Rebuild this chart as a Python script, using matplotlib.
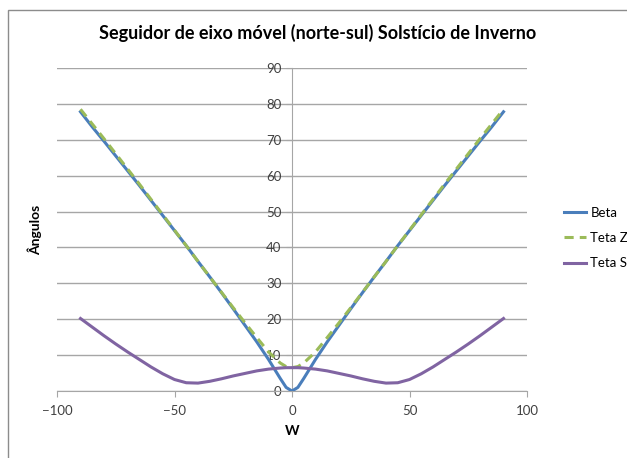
import matplotlib
matplotlib.use("Agg")
import matplotlib.pyplot as plt
from matplotlib.patches import Rectangle

# hour angle w, degrees
w = [-90, -85, -80, -75, -70, -65, -60, -55, -50, -45, -40, -35, -30, -25, -20, -15, -10, -5, -2.5,
     0, 2.5, 5, 10, 15, 20, 25, 30, 35, 40, 45, 50, 55, 60, 65, 70, 75, 80, 85, 90]

beta = [77.8, 73.6, 69.6, 65.5, 61.4, 57.3, 53.1, 48.9, 44.7, 40.5, 36.1, 31.8, 27.4, 22.9, 18.3, 13.7, 8.8, 3.5, 1.0,
        0.0, 1.0, 3.5, 8.8, 13.7, 18.3, 22.9, 27.4, 31.8, 36.1, 40.5, 44.7, 48.9, 53.1, 57.3, 61.4, 65.5, 69.6, 73.6, 77.8]

teta_z = [78.5, 74.4, 70.3, 66.1, 61.9, 57.7, 53.4, 49.1, 44.8, 40.5, 36.1, 31.8, 27.5, 23.2, 19.0, 14.9, 10.9, 7.8, 6.8,
          6.5, 6.8, 7.8, 10.9, 14.9, 19.0, 23.2, 27.5, 31.8, 36.1, 40.5, 44.8, 49.1, 53.4, 57.7, 61.9, 66.1, 70.3, 74.4, 78.5]

teta_s = [20.2, 17.8, 15.4, 13.1, 10.9, 8.8, 6.7, 4.8, 3.2, 2.3, 2.2, 2.7, 3.4, 4.2, 4.9, 5.6, 6.1, 6.4, 6.5,
          6.5, 6.5, 6.4, 6.1, 5.6, 4.9, 4.2, 3.4, 2.7, 2.2, 2.3, 3.2, 4.8, 6.7, 8.8, 10.9, 13.1, 15.4, 17.8, 20.2]

x_ticks = [-100, -50, 0, 50, 100]
y_ticks = [0, 10, 20, 30, 40, 50, 60, 70, 80, 90]

plt.rcParams['font.family'] = ['Lato', 'DejaVu Sans']

fig = plt.figure(figsize=(6.27, 4.58), dpi=100)
ax = fig.add_axes([57/627, 1 - 391/458, 470/627, 323/458])

# chart frame (cropped on the right and bottom)
fig.patches.append(Rectangle((8/627, -0.5), 2, 0.5 + 1 - 10/458, transform=fig.transFigure,
                             fill=False, edgecolor='#8c8c8c', lw=1.0))

ax.plot(w, beta, color='#4a7ebb', lw=2.2, label='Beta', zorder=3)
ax.plot(w, teta_z, color='#9bbb59', lw=2.2, ls=(0, (3, 2)), label='Teta Z', zorder=4)
ax.plot(w, teta_s, color='#8064a2', lw=2.2, label='Teta S', zorder=5)

ax.set_xlim(-100, 100)
ax.set_ylim(0, 90)
ax.set_xticks(x_ticks)
ax.set_yticks(y_ticks)
ax.yaxis.grid(True, color='#a6a6a6', lw=1.0)
ax.set_axisbelow(True)

ax.spines['left'].set_position(('data', 0))
ax.spines['top'].set_visible(False)
ax.spines['right'].set_visible(False)
for s in ['left', 'bottom']:
    ax.spines[s].set_color('#a6a6a6')
ax.tick_params(axis='both', colors='#a6a6a6', labelcolor='#404040', labelsize=9.5, length=4)
ax.tick_params(axis='x', pad=6)

ax.set_xlabel('W', fontsize=10, fontweight='bold', labelpad=6)
fig.text(35/627, 1 - 230/458, 'Ângulos', rotation=90, fontsize=10, fontweight='bold',
         ha='center', va='center')
fig.suptitle('Seguidor de eixo móvel (norte-sul) Solstício de Inverno', x=318/627, y=1 - 33/458,
             fontsize=13, fontweight='bold', va='center')

ax.legend(loc='center left', bbox_to_anchor=(552/627, 1 - 238/458), bbox_transform=fig.transFigure,
          frameon=False, fontsize=9.5, handlelength=1.7, handletextpad=0.3, labelspacing=1.0)

fig.savefig('out.png', dpi=100)
